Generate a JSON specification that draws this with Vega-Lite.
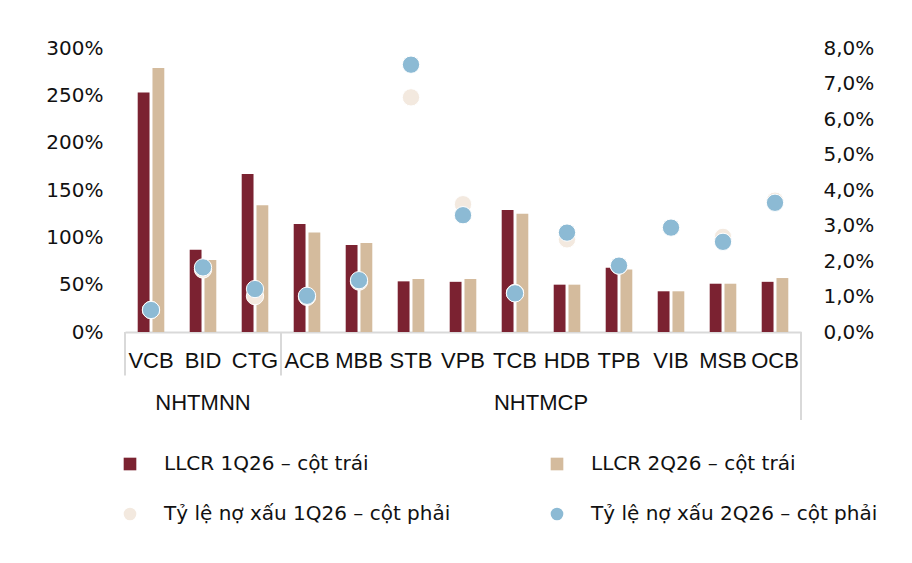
{
  "$schema": "https://vega.github.io/schema/vega-lite/v6.json",
  "description": "LLCR and NPL ratio by bank, 1Q26 vs 2Q26",
  "width": 676,
  "height": 284,
  "padding": {"left": 45, "top": 38, "right": 5, "bottom": 5},
  "datasets": {
    "banks": [
      {"bank": "VCB", "series": "LLCR 1Q26 – cột trái", "value": 2.53},
      {"bank": "BID", "series": "LLCR 1Q26 – cột trái", "value": 0.87},
      {"bank": "CTG", "series": "LLCR 1Q26 – cột trái", "value": 1.67},
      {"bank": "ACB", "series": "LLCR 1Q26 – cột trái", "value": 1.14},
      {"bank": "MBB", "series": "LLCR 1Q26 – cột trái", "value": 0.92},
      {"bank": "STB", "series": "LLCR 1Q26 – cột trái", "value": 0.535},
      {"bank": "VPB", "series": "LLCR 1Q26 – cột trái", "value": 0.53},
      {"bank": "TCB", "series": "LLCR 1Q26 – cột trái", "value": 1.29},
      {"bank": "HDB", "series": "LLCR 1Q26 – cột trái", "value": 0.5},
      {"bank": "TPB", "series": "LLCR 1Q26 – cột trái", "value": 0.68},
      {"bank": "VIB", "series": "LLCR 1Q26 – cột trái", "value": 0.43},
      {"bank": "MSB", "series": "LLCR 1Q26 – cột trái", "value": 0.51},
      {"bank": "OCB", "series": "LLCR 1Q26 – cột trái", "value": 0.53},
      {"bank": "VCB", "series": "LLCR 2Q26 – cột trái", "value": 2.79},
      {"bank": "BID", "series": "LLCR 2Q26 – cột trái", "value": 0.76},
      {"bank": "CTG", "series": "LLCR 2Q26 – cột trái", "value": 1.34},
      {"bank": "ACB", "series": "LLCR 2Q26 – cột trái", "value": 1.05},
      {"bank": "MBB", "series": "LLCR 2Q26 – cột trái", "value": 0.94},
      {"bank": "STB", "series": "LLCR 2Q26 – cột trái", "value": 0.56},
      {"bank": "VPB", "series": "LLCR 2Q26 – cột trái", "value": 0.56},
      {"bank": "TCB", "series": "LLCR 2Q26 – cột trái", "value": 1.25},
      {"bank": "HDB", "series": "LLCR 2Q26 – cột trái", "value": 0.5},
      {"bank": "TPB", "series": "LLCR 2Q26 – cột trái", "value": 0.66},
      {"bank": "VIB", "series": "LLCR 2Q26 – cột trái", "value": 0.43},
      {"bank": "MSB", "series": "LLCR 2Q26 – cột trái", "value": 0.51},
      {"bank": "OCB", "series": "LLCR 2Q26 – cột trái", "value": 0.57},
      {"bank": "VCB", "series": "Tỷ lệ nợ xấu 1Q26 – cột phải", "value": 0.0062},
      {"bank": "BID", "series": "Tỷ lệ nợ xấu 1Q26 – cột phải", "value": 0.0176},
      {"bank": "CTG", "series": "Tỷ lệ nợ xấu 1Q26 – cột phải", "value": 0.0101},
      {"bank": "ACB", "series": "Tỷ lệ nợ xấu 1Q26 – cột phải", "value": 0.0099},
      {"bank": "MBB", "series": "Tỷ lệ nợ xấu 1Q26 – cột phải", "value": 0.0142},
      {"bank": "STB", "series": "Tỷ lệ nợ xấu 1Q26 – cột phải", "value": 0.0661},
      {"bank": "VPB", "series": "Tỷ lệ nợ xấu 1Q26 – cột phải", "value": 0.036},
      {"bank": "TCB", "series": "Tỷ lệ nợ xấu 1Q26 – cột phải", "value": 0.011},
      {"bank": "HDB", "series": "Tỷ lệ nợ xấu 1Q26 – cột phải", "value": 0.0261},
      {"bank": "TPB", "series": "Tỷ lệ nợ xấu 1Q26 – cột phải", "value": 0.0187},
      {"bank": "VIB", "series": "Tỷ lệ nợ xấu 1Q26 – cột phải", "value": 0.0294},
      {"bank": "MSB", "series": "Tỷ lệ nợ xấu 1Q26 – cột phải", "value": 0.0268},
      {"bank": "OCB", "series": "Tỷ lệ nợ xấu 1Q26 – cột phải", "value": 0.037},
      {"bank": "VCB", "series": "Tỷ lệ nợ xấu 2Q26 – cột phải", "value": 0.0062},
      {"bank": "BID", "series": "Tỷ lệ nợ xấu 2Q26 – cột phải", "value": 0.0182},
      {"bank": "CTG", "series": "Tỷ lệ nợ xấu 2Q26 – cột phải", "value": 0.0121},
      {"bank": "ACB", "series": "Tỷ lệ nợ xấu 2Q26 – cột phải", "value": 0.0102},
      {"bank": "MBB", "series": "Tỷ lệ nợ xấu 2Q26 – cột phải", "value": 0.0146},
      {"bank": "STB", "series": "Tỷ lệ nợ xấu 2Q26 – cột phải", "value": 0.0753},
      {"bank": "VPB", "series": "Tỷ lệ nợ xấu 2Q26 – cột phải", "value": 0.0329},
      {"bank": "TCB", "series": "Tỷ lệ nợ xấu 2Q26 – cột phải", "value": 0.0109},
      {"bank": "HDB", "series": "Tỷ lệ nợ xấu 2Q26 – cột phải", "value": 0.028},
      {"bank": "TPB", "series": "Tỷ lệ nợ xấu 2Q26 – cột phải", "value": 0.0187},
      {"bank": "VIB", "series": "Tỷ lệ nợ xấu 2Q26 – cột phải", "value": 0.0294},
      {"bank": "MSB", "series": "Tỷ lệ nợ xấu 2Q26 – cột phải", "value": 0.0254},
      {"bank": "OCB", "series": "Tỷ lệ nợ xấu 2Q26 – cột phải", "value": 0.0364}
    ],
    "dividers": [
      {"bank": "VCB"},
      {"bank": "ACB"}
    ],
    "dividerEnd": [
      {"bank": "OCB"}
    ]
  },
  "layer": [
    {
      "data": {"name": "banks"},
      "transform": [{"filter": "indexof(datum.series, 'LLCR') === 0"}],
      "mark": {"type": "bar"},
      "encoding": {
        "x": {
          "field": "bank", "type": "nominal", "sort": null,
          "scale": {"domain": ["VCB","BID","CTG","ACB","MBB","STB","VPB","TCB","HDB","TPB","VIB","MSB","OCB"], "paddingInner": 0, "paddingOuter": 0},
          "axis": {"title": null}
        },
        "xOffset": {
          "field": "series", "type": "nominal", "sort": null,
          "scale": {"paddingInner": 0.2, "paddingOuter": 0.86}
        },
        "y": {
          "field": "value", "type": "quantitative",
          "scale": {"domain": [0, 3], "nice": false},
          "axis": {"orient": "left", "title": null, "values": [0, 0.5, 1, 1.5, 2, 2.5, 3], "format": ".0%"}
        },
        "color": {
          "field": "series", "type": "nominal",
          "scale": {
            "domain": ["LLCR 1Q26 – cột trái", "LLCR 2Q26 – cột trái", "Tỷ lệ nợ xấu 1Q26 – cột phải", "Tỷ lệ nợ xấu 2Q26 – cột phải"],
            "range": ["#7B2231", "#D4BB9D", "#F3E9DF", "#8CBAD4"]
          },
          "legend": {
            "orient": "none", "legendX": -5, "legendY": 406,
            "title": null, "columns": 2, "direction": "horizontal",
            "columnPadding": 96, "rowPadding": 30,
            "labelFont": "DejaVu Sans", "labelFontSize": 20, "labelColor": "#111111",
            "labelOffset": 24, "labelLimit": 500, "symbolSize": 160, "symbolStrokeWidth": 0,
            "symbolOpacity": 1,
            "encode": {"symbols": {"update": {"shape": {"signal": "indexof(datum.value, 'LLCR') === 0 ? 'square' : 'circle'"}}}}
          }
        }
      }
    },
    {
      "data": {"name": "banks"},
      "transform": [{"filter": "indexof(datum.series, 'LLCR') !== 0"}],
      "mark": {"type": "point", "filled": true, "size": 300, "opacity": 1, "stroke": "#ffffff", "strokeWidth": 1},
      "encoding": {
        "x": {
          "field": "bank", "type": "nominal", "sort": null,
          "scale": {"domain": ["VCB","BID","CTG","ACB","MBB","STB","VPB","TCB","HDB","TPB","VIB","MSB","OCB"], "paddingInner": 0, "paddingOuter": 0},
          "axis": {"title": null}
        },
        "y": {
          "field": "value", "type": "quantitative",
          "scale": {"domain": [0, 0.08], "nice": false},
          "axis": {"orient": "right", "title": null, "values": [0, 0.01, 0.02, 0.03, 0.04, 0.05, 0.06, 0.07, 0.08], "labelExpr": "replace(format(datum.value, '.1%'), '.', ',')"}
        },
        "color": {"field": "series", "type": "nominal"}
      }
    },
    {
      "data": {"name": "dividers"},
      "mark": {"type": "rule", "color": "#D9D9D9", "strokeWidth": 2},
      "encoding": {
        "x": {
          "field": "bank", "type": "nominal", "sort": null, "bandPosition": 0,
          "scale": {"domain": ["VCB","BID","CTG","ACB","MBB","STB","VPB","TCB","HDB","TPB","VIB","MSB","OCB"], "paddingInner": 0, "paddingOuter": 0},
          "axis": {"title": null}
        },
        "y": {"datum": 0, "type": "quantitative", "scale": {"domain": [0, 3], "nice": false}, "axis": null},
        "y2": {"condition": {"test": "datum.bank === 'VCB'", "datum": -0.93}, "datum": -0.46}
      }
    },
    {
      "data": {"name": "dividerEnd"},
      "mark": {"type": "rule", "color": "#D9D9D9", "strokeWidth": 2},
      "encoding": {
        "x": {
          "field": "bank", "type": "nominal", "sort": null, "bandPosition": 1,
          "scale": {"domain": ["VCB","BID","CTG","ACB","MBB","STB","VPB","TCB","HDB","TPB","VIB","MSB","OCB"], "paddingInner": 0, "paddingOuter": 0},
          "axis": {"title": null}
        },
        "y": {"datum": 0, "type": "quantitative", "scale": {"domain": [0, 3], "nice": false}, "axis": null},
        "y2": {"datum": -0.93}
      }
    },
    {
      "data": {"values": [{"bank": "BID", "group": "NHTMNN"}]},
      "mark": {"type": "text", "font": "Liberation Sans", "fontSize": 22, "color": "#111111", "baseline": "middle"},
      "encoding": {
        "x": {
          "field": "bank", "type": "nominal", "sort": null,
          "scale": {"domain": ["VCB","BID","CTG","ACB","MBB","STB","VPB","TCB","HDB","TPB","VIB","MSB","OCB"], "paddingInner": 0, "paddingOuter": 0},
          "axis": {"title": null}
        },
        "y": {"datum": -0.75, "type": "quantitative", "scale": {"domain": [0, 3], "nice": false}, "axis": null},
        "text": {"field": "group"}
      }
    },
    {
      "data": {"values": [{"bank": "HDB", "group": "NHTMCP"}]},
      "mark": {"type": "text", "font": "Liberation Sans", "fontSize": 22, "color": "#111111", "baseline": "middle"},
      "encoding": {
        "x": {
          "field": "bank", "type": "nominal", "sort": null, "bandPosition": 0,
          "scale": {"domain": ["VCB","BID","CTG","ACB","MBB","STB","VPB","TCB","HDB","TPB","VIB","MSB","OCB"], "paddingInner": 0, "paddingOuter": 0},
          "axis": {"title": null}
        },
        "y": {"datum": -0.75, "type": "quantitative", "scale": {"domain": [0, 3], "nice": false}, "axis": null},
        "text": {"field": "group"}
      }
    }
  ],
  "resolve": {"scale": {"y": "independent"}},
  "config": {
    "view": {"stroke": null},
    "axisX": {
      "labelFont": "Liberation Sans", "labelFontSize": 22, "labelColor": "#111111",
      "labelAngle": 0, "labelPadding": 18, "ticks": false,
      "domainColor": "#D9D9D9", "domainWidth": 2, "grid": false, "labelOverlap": false
    },
    "axisY": {
      "labelFont": "DejaVu Sans", "labelFontSize": 20, "labelColor": "#111111",
      "labelPadding": 22, "ticks": false, "domain": false, "grid": false
    }
  }
}
